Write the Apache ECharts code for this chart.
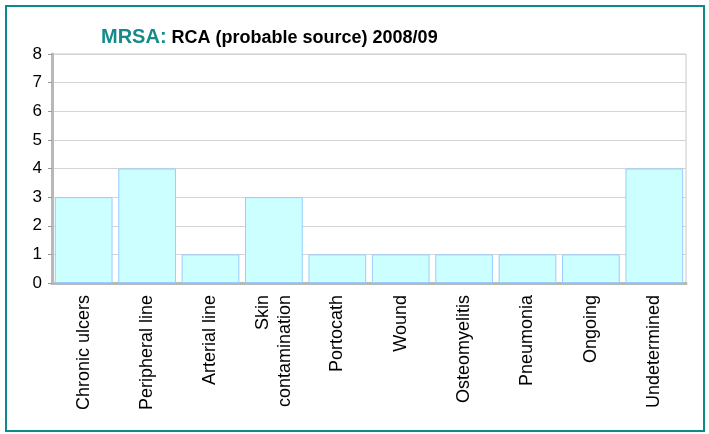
<!DOCTYPE html>
<html>
<head>
<meta charset="utf-8">
<script src="https://cdn.jsdelivr.net/npm/echarts@6/dist/echarts.min.js"></script>
<style>
html,body{margin:0;padding:0;background:#fff;}
#frame{position:absolute;left:5px;top:5px;width:696px;height:423px;border:2px solid #0f8a8a;box-sizing:content-box;}
#chart{position:absolute;left:0;top:0;width:709px;height:434px;}
</style>
</head>
<body>
<div id="frame"></div>
<div id="chart"></div>
<script>
const categories = ["Chronic ulcers","Peripheral line","Arterial line","Skin\ncontamination","Portocath","Wound","Osteomyelitis","Pneumonia","Ongoing","Undetermined"];
const values = [3,4,1,3,1,1,1,1,1,4];
const yTicks = [0,1,2,3,4,5,6,7,8];

const chart = echarts.init(document.getElementById('chart'), null, {renderer:'canvas'});
chart.setOption({
  animation:false,
  title:{
    left:96, top:22,
    text:'{a|MRSA:} {b|RCA (probable source) 2008/09}',
    textStyle:{
      rich:{
        a:{color:'#168a8a',fontWeight:'bold',fontSize:20,fontFamily:'Liberation Sans, Arial',verticalAlign:'bottom'},
        b:{color:'#000',fontWeight:'bold',fontSize:18,fontFamily:'Liberation Sans, Arial',verticalAlign:'bottom'}
      }
    }
  },
  grid:{left:52,right:23,top:54,bottom:151,show:true,borderColor:'#c8c8c8',borderWidth:1},
  xAxis:{
    type:'category',
    data:categories,
    axisLine:{lineStyle:{color:'#b8b8b8',width:3}},
    axisTick:{show:false},
    axisLabel:{rotate:90,fontSize:18,color:'#000',fontFamily:'Liberation Sans, Arial',margin:12,interval:0,lineHeight:22,align:'right',verticalAlign:'middle'}
  },
  yAxis:{
    type:'value',min:0,max:yTicks[yTicks.length-1],interval:1,
    axisLine:{show:true,lineStyle:{color:'#b8b8b8',width:3}},
    axisTick:{show:true,length:4,lineStyle:{color:'#999'}},
    axisLabel:{fontSize:17,color:'#000',fontFamily:'Liberation Sans, Arial',margin:10},
    splitLine:{lineStyle:{color:'#d4d4d4',width:1}}
  },
  series:[{
    type:'bar',
    data:values,
    barCategoryGap:'9%',
    itemStyle:{color:'#ccffff',borderColor:'#99ccff',borderWidth:1}
  }]
});
</script>
</body>
</html>
